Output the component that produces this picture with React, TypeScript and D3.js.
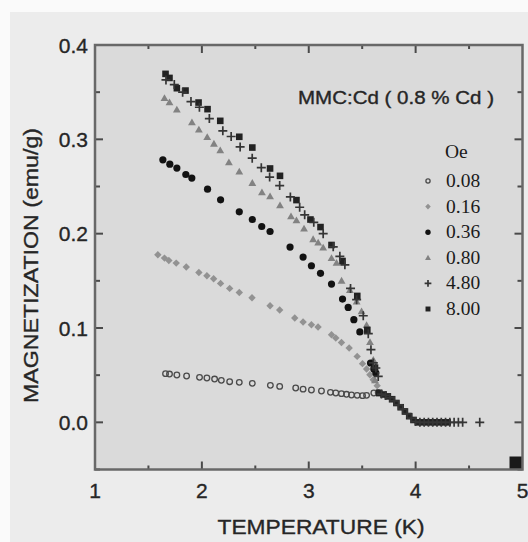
import React from "react";
import * as d3 from "d3";

// ---- data (temperature K, magnetization emu/g) ----
const T_008 = [1.660,1.697,1.766,1.857,1.978,2.047,2.119,2.182,2.260,2.350,2.472,2.641,2.728,2.878,2.947,3.025,3.119,3.203,3.253,3.306,3.353,3.400,3.453,3.503,3.541,3.609,3.650];
const M_008 = [0.0516,0.0512,0.0502,0.0491,0.0477,0.0470,0.0459,0.0445,0.0431,0.0424,0.0413,0.0392,0.0381,0.0364,0.0352,0.0343,0.0332,0.0318,0.0311,0.0304,0.0297,0.0290,0.0286,0.0283,0.0286,0.0311,0.0318];

const T_016 = [1.588,1.650,1.691,1.760,1.854,1.972,2.047,2.110,2.175,2.260,2.350,2.469,2.638,2.728,2.869,2.947,3.025,3.087,3.213,3.253,3.306,3.378,3.453,3.503,3.541,3.572,3.603,3.640];
const M_016 = [0.1776,0.1741,0.1716,0.1688,0.1646,0.1589,0.1554,0.1522,0.1473,0.1420,0.1377,0.1321,0.1236,0.1191,0.1106,0.1064,0.1035,0.1010,0.0929,0.0894,0.0847,0.0788,0.0699,0.0622,0.0566,0.0505,0.0452,0.0389];

const T_036 = [1.635,1.700,1.766,1.850,1.906,2.053,2.175,2.350,2.472,2.560,2.638,2.825,2.947,3.025,3.110,3.213,3.316,3.369,3.422,3.478,3.578,3.609,3.628];
const M_036 = [0.2783,0.2737,0.2695,0.2627,0.2589,0.2472,0.2359,0.2232,0.2150,0.2076,0.2023,0.1858,0.1752,0.1660,0.1580,0.1466,0.1307,0.1218,0.1088,0.0958,0.0629,0.0566,0.0523];

const T_080 = [1.650,1.697,1.766,1.907,1.972,2.050,2.113,2.172,2.253,2.350,2.472,2.562,2.638,2.731,2.834,2.885,2.956,3.041,3.088,3.135,3.213,3.260,3.307,3.385,3.448,3.494,3.541,3.573,3.604,3.620];
const M_080 = [0.3436,0.3390,0.3313,0.3178,0.3101,0.3023,0.2952,0.2881,0.2754,0.2656,0.2536,0.2436,0.2394,0.2299,0.2182,0.2140,0.2052,0.1940,0.1905,0.1850,0.1740,0.1690,0.1500,0.1400,0.1280,0.1175,0.1030,0.0850,0.0660,0.0445];

const T_480 = [1.664,1.742,1.820,1.898,1.977,2.070,2.196,2.274,2.358,2.471,2.556,2.634,2.728,2.828,2.915,2.962,3.047,3.135,3.229,3.291,3.338,3.391,3.448,3.510,3.557,3.582,3.604,3.628,3.650,3.68,3.72,3.76,3.80,3.84,3.88,3.92,3.96,4.00,4.04,4.08,4.12,4.16,4.20,4.24,4.28,4.32,4.36,4.40,4.44,4.60];
const M_480 = [0.363,0.358,0.350,0.340,0.334,0.322,0.309,0.303,0.292,0.280,0.270,0.260,0.251,0.239,0.228,0.220,0.212,0.200,0.186,0.176,0.167,0.142,0.130,0.113,0.094,0.077,0.063,0.0576,0.0487,0.0300,0.0285,0.0262,0.0228,0.0185,0.0140,0.0092,0.0045,0.0008,0,0,0,0,0,0,0,0,0,0,0,0];

const T_800 = [1.660,1.697,1.766,1.847,1.969,2.053,2.172,2.350,2.472,2.638,2.731,2.885,3.016,3.110,3.213,3.316,3.454,3.548,3.620,3.66,3.70,3.74,3.78,3.82,3.86,3.90,3.94,3.98,4.02,4.06,4.10,4.14,4.18,4.22,4.26,4.30];
const M_800 = [0.3694,0.3651,0.3542,0.3517,0.3390,0.3320,0.3196,0.3027,0.2913,0.2691,0.2613,0.2356,0.2150,0.2070,0.1880,0.1710,0.1340,0.0980,0.0580,0.0310,0.0295,0.0275,0.0245,0.0205,0.0160,0.0115,0.0065,0.0025,0,0,0,0,0,0,0,0];

// stray solid mark at the bottom-right corner of the frame
const CORNER_T = [5.0];
const CORNER_M = [-0.05];

const FIELD_LABELS = ["0.08", "0.16", "0.36", "0.80", "4.80", "8.00"];
const X_TICKS = [1, 2, 3, 4, 5];
const Y_TICKS = [0.0, 0.1, 0.2, 0.3, 0.4];
const TITLE = "MMC:Cd ( 0.8 % Cd )";

type Kind = "openCircle" | "diamond" | "dot" | "triangle" | "plus" | "square";

function Marker({ kind, x, y, s = 1 }: { kind: Kind; x: number; y: number; s?: number }) {
  switch (kind) {
    case "openCircle":
      return <circle cx={x} cy={y} r={2.8 * s} fill="none" stroke="#4a4a4a" strokeWidth={1.3} />;
    case "diamond":
      return <path d={`M${x},${y - 3.7 * s}L${x + 3.7 * s},${y}L${x},${y + 3.7 * s}L${x - 3.7 * s},${y}Z`} fill="#929292" />;
    case "dot":
      return <circle cx={x} cy={y} r={3.6 * s} fill="#121212" />;
    case "triangle":
      return <path d={`M${x},${y - 4 * s}L${x + 3.9 * s},${y + 2.8 * s}L${x - 3.9 * s},${y + 2.8 * s}Z`} fill="#828282" />;
    case "plus":
      return <path d={`M${x - 4.5 * s},${y}H${x + 4.5 * s}M${x},${y - 4.5 * s}V${y + 4.5 * s}`} stroke="#353535" strokeWidth={1.7} />;
    case "square":
      return <rect x={x - 3.3 * s} y={y - 3.3 * s} width={6.6 * s} height={6.6 * s} fill="#222" />;
  }
}

export default function App() {
  const W = 528, H = 542;
  const L = 95, R = 522.5, T = 45, B = 469.5;
  const x = d3.scaleLinear().domain([1, 5]).range([L, R]);
  const y = d3.scaleLinear().domain([-0.05, 0.4]).range([B, T]);

  const series: { t: number[]; m: number[]; kind: Kind }[] = [
    { t: T_016, m: M_016, kind: "diamond" },
    { t: T_008, m: M_008, kind: "openCircle" },
    { t: T_080, m: M_080, kind: "triangle" },
    { t: T_036, m: M_036, kind: "dot" },
    { t: T_800, m: M_800, kind: "square" },
    { t: T_480, m: M_480, kind: "plus" },
  ];
  const legendKinds: Kind[] = ["openCircle", "diamond", "dot", "triangle", "plus", "square"];

  const xMinor = d3.range(1.5, 5, 1);
  const yMinor = d3.range(-0.05, 0.4, 0.1).map((v) => +v.toFixed(2));
  const tickColor = "#4a4a4a";
  const txt = "#262626";

  return (
    <svg width={W} height={H} style={{ position: "absolute", left: 0, top: 0 }} fontFamily="'Liberation Sans', Arial, sans-serif">
      <rect x={0} y={0} width={W} height={H} fill="#ececec" />
      <rect x={0} y={0} width={W} height={12} fill="#fafafa" />
      <rect x={0} y={0} width={10} height={H} fill="#fafafa" />
      <rect x={L} y={T} width={R - L} height={B - T} fill="#dadada" />

      {/* ticks */}
      <g stroke={tickColor} strokeWidth={2}>
        {X_TICKS.slice(1, -1).map((v) => (
          <g key={"xM" + v}>
            <line x1={x(v)} x2={x(v)} y1={B} y2={B - 8} />
            <line x1={x(v)} x2={x(v)} y1={T} y2={T + 8} />
          </g>
        ))}
        {xMinor.map((v) => (
          <g key={"xm" + v}>
            <line x1={x(v)} x2={x(v)} y1={B} y2={B - 4} />
            <line x1={x(v)} x2={x(v)} y1={T} y2={T + 4} />
          </g>
        ))}
        {Y_TICKS.slice(0, -1).map((v) => (
          <g key={"yM" + v}>
            <line x1={L} x2={L + 8} y1={y(v)} y2={y(v)} />
            <line x1={R} x2={R - 8} y1={y(v)} y2={y(v)} />
          </g>
        ))}
        {yMinor.map((v) => (
          <g key={"ym" + v}>
            <line x1={L} x2={L + 5} y1={y(v)} y2={y(v)} />
            <line x1={R} x2={R - 5} y1={y(v)} y2={y(v)} />
          </g>
        ))}
      </g>

      {/* data */}
      {series.map((s, i) => (
        <g key={i}>
          {s.t.map((tv, j) => (
            <Marker key={j} kind={s.kind} x={x(tv)} y={y(s.m[j])} />
          ))}
        </g>
      ))}
      {CORNER_T.map((tv, i) => (
        <rect key={i} x={x(tv) - 13} y={y(CORNER_M[i]) - 13} width={13} height={13} fill="#1a1a1a" />
      ))}

      {/* frame */}
      <rect x={L} y={T} width={R - L} height={B - T} fill="none" stroke="#686868" strokeWidth={2.5} />

      {/* tick labels */}
      <g fontSize={21} fill={txt} stroke={txt} strokeWidth={0.35}>
        {X_TICKS.map((v) => (
          <text key={v} x={x(v)} y={498} textAnchor="middle">{v}</text>
        ))}
        {Y_TICKS.map((v) => (
          <text key={v} x={88} y={y(v) + 7.5} textAnchor="end">{v.toFixed(1)}</text>
        ))}
      </g>

      {/* axis titles */}
      <g fill={txt} stroke={txt} strokeWidth={0.35}>
        <text x={321} y={534} fontSize={21} textAnchor="middle" textLength={207} lengthAdjust="spacingAndGlyphs">TEMPERATURE (K)</text>
        <text transform="translate(38,265.5) rotate(-90)" fontSize={21} textAnchor="middle" textLength={275} lengthAdjust="spacingAndGlyphs">MAGNETIZATION (emu/g)</text>
        <text x={298} y={104} fontSize={17.5} textLength={196} lengthAdjust="spacingAndGlyphs">{TITLE}</text>
      </g>

      {/* legend */}
      <g fontFamily="'Liberation Serif', 'Times New Roman', serif" fill="#1a1a1a" fontSize={19.5}>
        <text x={445} y={158}>Oe</text>
        {FIELD_LABELS.map((lab, i) => (
          <g key={lab}>
            <Marker kind={legendKinds[i]} x={428} y={187 + i * 25.6 - 6} s={0.75} />
            <text x={446} y={187 + i * 25.6}>{lab}</text>
          </g>
        ))}
      </g>
    </svg>
  );
}
